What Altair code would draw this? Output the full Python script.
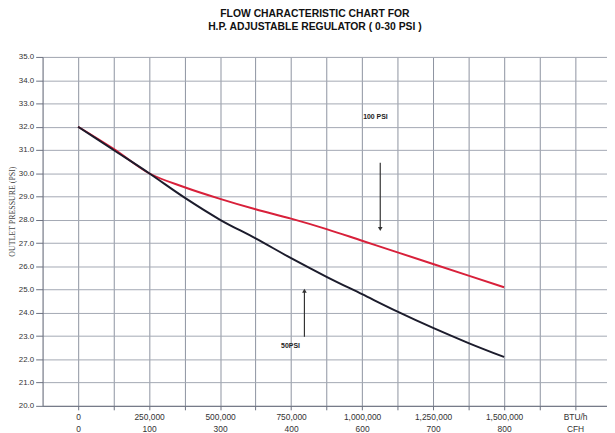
import altair as alt
import pandas as pd

# ---- data ----
btu = [0, 125000, 250000, 375000, 500000, 625000, 750000, 875000,
       1000000, 1125000, 1250000, 1375000, 1500000]
psi_100 = [32.0, 31.05, 30.0, 29.4, 28.9, 28.45, 28.05, 27.6, 27.1, 26.6, 26.1, 25.6, 25.1]
psi_50 = [32.0, 31.0, 30.0, 28.95, 28.0, 27.2, 26.35, 25.55, 24.8, 24.05, 23.35, 22.7, 22.1]

grid_vals = [0, 125000, 250000, 375000, 500000, 625000, 750000, 875000,
             1000000, 1125000, 1250000, 1375000, 1500000, 1625000, 1750000]
tick_vals = [0, 250000, 500000, 750000, 1000000, 1250000, 1500000, 1750000]
btu_labels = ["0", "250,000", "500,000", "750,000", "1,000,000", "1,250,000", "1,500,000", "BTU/h"]
cfh_labels = ["0", "100", "300", "400", "600", "700", "800", "CFH"]
y_vals = [20, 21, 22, 23, 24, 25, 26, 27, 28, 29, 30, 31, 32, 33, 34, 35]

ann_text = ["100 PSI", "50PSI"]
ann_x = [1047000, 748000]
ann_y = [32.41, 22.59]
arrow_x = [1064000, 797000]
arrow_from = [30.45, 22.97]
arrow_to = [27.6, 24.95]
arrow_head = ["triangle-down", "triangle-up"]

series = pd.DataFrame({
    "btu": btu * 2,
    "psi": psi_100 + psi_50,
    "series": ["100 PSI"] * len(btu) + ["50 PSI"] * len(btu),
})
ann = pd.DataFrame({"text": ann_text, "x": ann_x, "y": ann_y})
arrows = pd.DataFrame({"x": arrow_x, "y": arrow_from, "y2": arrow_to, "shape": arrow_head})

tv = str(tick_vals)
label_expr = (f"indexof({tv}, datum.value) >= 0 ? "
              f"[{btu_labels}[indexof({tv}, datum.value)], {cfh_labels}[indexof({tv}, datum.value)]] : ''")

x_scale = alt.Scale(domain=[-125000, 1862500], nice=False, zero=False)
y_scale = alt.Scale(domain=[20, 35], nice=False, zero=False)

x_axis = alt.Axis(values=grid_vals, labelExpr=label_expr, title=None, grid=True,
                  gridColor="#8d93a0", gridWidth=1, gridOpacity=1,
                  domainColor="#6b7080", tickColor="#6b7080", tickSize=4,
                  labelFont="Liberation Sans", labelFontSize=8.5, labelColor="#333333",
                  labelLineHeight=11.5, labelPadding=3, labelBaseline="top", labelFlush=False,
                  labelOverlap=False)
y_axis = alt.Axis(values=y_vals, format=".1f", title="OUTLET PRESSURE (PSI)", grid=True,
                  gridColor="#a3a8b3", gridWidth=1, gridOpacity=1,
                  domainColor="#6b7080", tickColor="#6b7080", tickSize=7,
                  labelFont="Liberation Sans", labelFontSize=8, labelColor="#333333",
                  labelPadding=2, labelOverlap=False, labelBound=False, labelFlush=False,
                  titleFont="Liberation Serif", titleFontSize=8,
                  titleFontWeight="normal", titleColor="#444444", titleX=-30, titleY=156,
                  titleBaseline="middle", titleAngle=270)

X = lambda f: alt.X(f, scale=x_scale, axis=x_axis)
Y = lambda f: alt.Y(f, scale=y_scale, axis=y_axis)

lines = alt.Chart(series).mark_line(strokeWidth=2, interpolate="monotone").encode(
    x=X("btu:Q"), y=Y("psi:Q"),
    color=alt.Color("series:N", scale=alt.Scale(domain=["100 PSI", "50 PSI"],
                                                range=["#d8203a", "#1c1c2c"]), legend=None),
)

texts = alt.Chart(ann).mark_text(font="Liberation Sans", fontSize=7, fontWeight="bold",
                                 color="#222222").encode(
    x=X("x:Q"), y=Y("y:Q"), text="text:N")

rules = alt.Chart(arrows).mark_rule(color="#333333", strokeWidth=1.2).encode(
    x=X("x:Q"), y=Y("y:Q"), y2="y2:Q")

heads = alt.Chart(arrows).mark_point(filled=True, color="#333333", size=22, opacity=1).encode(
    x=X("x:Q"), y=Y("y2:Q"), shape=alt.Shape("shape:N", scale=None))

chart = alt.layer(lines, rules, heads, texts).properties(
    width=571, height=353,
    title=alt.TitleParams(text=["FLOW CHARACTERISTIC CHART FOR",
                                "H.P. ADJUSTABLE REGULATOR ( 0-30 PSI )"],
                          font="Liberation Sans", fontSize=10.5, fontWeight="bold",
                          color="#111111", anchor="middle", dx=-10, offset=21, lineHeight=13),
    autosize=alt.AutoSizeParams(type="none"),
    padding={"left": 35, "top": 47, "right": 0, "bottom": 30},
).configure_view(stroke=None).configure(background="white")

chart.save("out.html", embed_options={"renderer": "svg", "actions": False})
